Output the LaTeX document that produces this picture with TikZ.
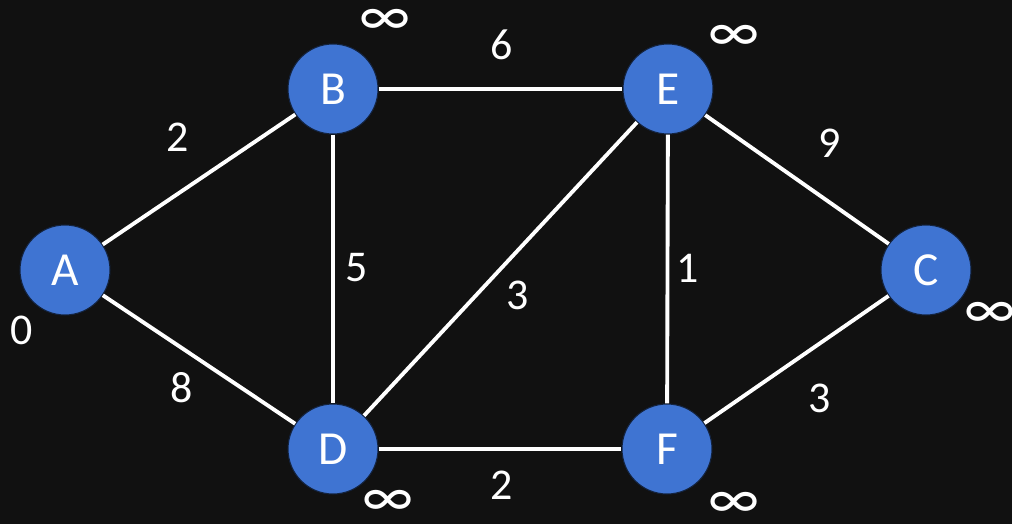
\documentclass[tikz,border=0pt]{standalone}
\usepackage{fontspec}
\setmainfont{Carlito}
\newfontfamily\symfont{DejaVu Sans}
\definecolor{bg}{HTML}{111111}
\definecolor{nodeblue}{HTML}{3F74D2}
\begin{document}
\begin{tikzpicture}[x=0.02cm,y=-0.02cm,
  vert/.style={circle,fill=nodeblue,draw=black!70!nodeblue,line width=0.6pt,minimum size=1.8cm,inner sep=0pt,text=white,font=\fontsize{27}{30}\selectfont},
  edge/.style={draw=white,line width=2.2pt},
  wlab/.style={text=white,font=\fontsize{25}{28}\selectfont,inner sep=0pt},
  inf/.style={text=white,font=\fontsize{34}{36}\selectfont,inner sep=0pt}]
\fill[bg] (0,0) rectangle (1012,524);
\useasboundingbox (0,0) rectangle (1012,524);
\node[vert] (A) at (65,270) {A};
\node[vert] (B) at (333,89) {B};
\node[vert] (E) at (668,89) {E};
\node[vert] (C) at (926,270) {C};
\node[vert] (D) at (333,449) {D};
\node[vert] (F) at (667,449) {F};
\begin{scope}[on background layer/.style={}]
\end{scope}
\path[edge] (A) -- (B);
\path[edge] (A) -- (D);
\path[edge] (B) -- (E);
\path[edge] (B) -- (D);
\path[edge] (D) -- (E);
\path[edge] (E) -- (F);
\path[edge] (E) -- (C);
\path[edge] (D) -- (F);
\path[edge] (F) -- (C);
\node[wlab] (w1) at (178,137) {2};
\node[wlab] (w2) at (182,388) {8};
\node[wlab] (w3) at (502,45) {6};
\node[wlab] (w4) at (357,268) {5};
\node[wlab] (w5) at (518,295) {3};
\node[wlab] (w6) at (688,268) {1};
\node[wlab] (w7) at (830,143) {9};
\node[wlab] (w8) at (820,398) {3};
\node[wlab] (w9) at (502,485) {2};
\node[wlab] (d0) at (22,330) {0};
\node[inf] (iB) at (385,22) {∞};
\node[inf] (iE) at (734,38) {∞};
\node[inf] (iC) at (990,315) {∞};
\node[inf] (iD) at (388,503) {∞};
\node[inf] (iF) at (734,505) {∞};
\end{tikzpicture}
\end{document}
